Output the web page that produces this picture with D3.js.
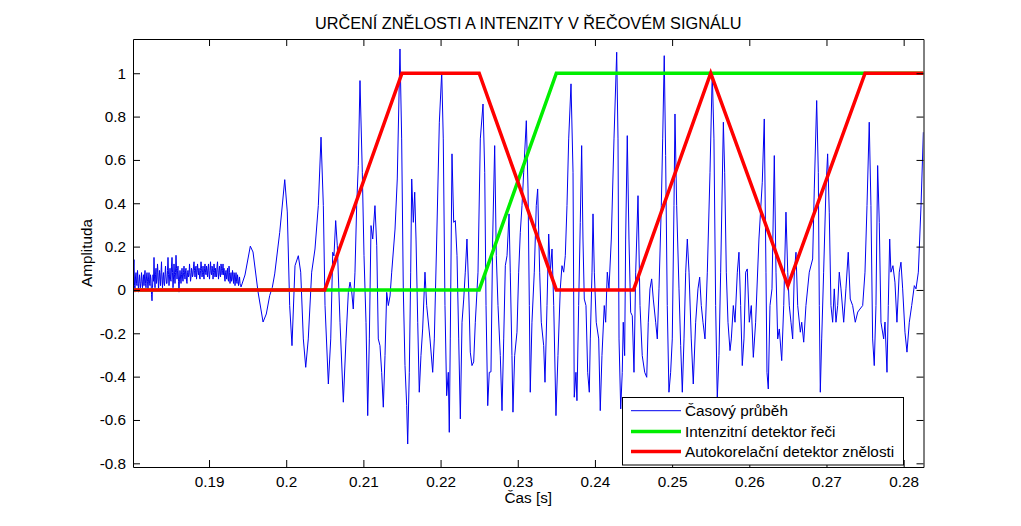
<!DOCTYPE html>
<html>
<head>
<meta charset="utf-8">
<script src="https://cdn.jsdelivr.net/npm/d3@7"></script>
<style>
  html, body { margin: 0; padding: 0; background: #fff; }
  svg { display: block; font-family: "Liberation Sans", Arial, sans-serif; }
</style>
</head>
<body>
<svg id="chart" width="1021" height="526"></svg>
<script>
// ---------------- DATA ----------------
const titleText = "URČENÍ ZNĚLOSTI A INTENZITY V ŘEČOVÉM SIGNÁLU";
const xLabelText = "Čas [s]";
const yLabelText = "Amplituda";
const legendLabels = ["Časový průběh", "Intenzitní detektor řeči", "Autokorelační detektor znělosti"];

const xTicks = [0.19, 0.20, 0.21, 0.22, 0.23, 0.24, 0.25, 0.26, 0.27, 0.28];
const xTickLabels = ["0.19", "0.2", "0.21", "0.22", "0.23", "0.24", "0.25", "0.26", "0.27", "0.28"];
const yTicks = [-0.8, -0.6, -0.4, -0.2, 0, 0.2, 0.4, 0.6, 0.8, 1];
const yTickLabels = ["-0.8", "-0.6", "-0.4", "-0.2", "0", "0.2", "0.4", "0.6", "0.8", "1"];
const xDomain = [0.18015, 0.28257];
const yDomain = [-0.817, 1.158];

// background noise before voicing (uniformly sampled)
const noiseStartMs = 180.15;
const noiseStepMs = 0.0648;
const noiseAmp = [
  0.04, 0.10, 0.14, 0.02, -0.01, 0.06, 0.08, 0.03, 0.02, 0.09, 0.05, -0.01, 0.03, 0.07, 0.04, 0.01,
  0.03, 0.08, 0.05, 0.01, 0.04, 0.07, 0.02, 0.06, 0.09, 0.03, 0.01, 0.06, 0.08, 0.04, 0.00, 0.05, 0.08, 0.03, 0.02, 0.07, 0.05, -0.02, -0.05, 0.01, 0.07, 0.04,
  0.15, 0.06, 0.01, 0.07, 0.10, 0.03, 0.05, 0.12, 0.08, 0.00, 0.04, 0.09, 0.06, 0.02, 0.08, 0.13, 0.05, 0.01, 0.06, 0.08, 0.03, 0.02, 0.07, 0.11, 0.06, 0.03,
  0.03, 0.09, 0.15, 0.07, 0.02, 0.06, 0.10, 0.05, 0.04, 0.11, 0.15, 0.08, 0.01, 0.05, 0.12, 0.07, 0.03, 0.08, 0.16, 0.10, 0.05, 0.09, 0.11, 0.04, -0.01, 0.05, 0.09, 0.06, 0.03, 0.07, 0.10, 0.06, 0.04, 0.08,
  0.11, 0.07, 0.05, 0.09, 0.10, 0.04, 0.03, 0.08, 0.09, 0.06, 0.07, 0.12, 0.08, 0.04, 0.06, 0.10, 0.09, 0.06, 0.07, 0.11,
  0.13, 0.09, 0.06, 0.10, 0.11, 0.05, 0.08, 0.12, 0.09, 0.07, 0.10, 0.06, 0.05, 0.09, 0.13, 0.10, 0.06, 0.08, 0.11, 0.07,
  0.05, 0.10, 0.12, 0.08, 0.07, 0.11, 0.09, 0.06, 0.10, 0.12, 0.07, 0.05, 0.09, 0.13, 0.08, 0.07, 0.11, 0.10, 0.05, 0.08,
  0.12, 0.09, 0.06, 0.10, 0.07, 0.06, 0.11, 0.13, 0.08, 0.05, 0.09, 0.11, 0.07, 0.06, 0.12, 0.10, 0.07, 0.09, 0.12, 0.07,
  0.10, 0.06, 0.04, 0.08, 0.09, 0.05, 0.07, 0.10, 0.05, 0.04, 0.11, 0.08, 0.03, 0.06, 0.08, 0.04, 0.05, 0.09, 0.06, 0.03,
  0.08, 0.07, 0.02, 0.05, 0.08, 0.04, 0.03, 0.07, 0.05, 0.02, 0.04, 0.06, 0.03, 0.02
];

// voiced speech waveform: vertex times (ms) and amplitudes
const speechMs = [
  194.15, 194.66, 195.35, 195.70, 196.35, 197.00, 197.42, 197.86, 198.20, 198.51, 199.16, 199.81, 200.14, 200.45, 200.75,
  201.14, 201.57, 201.88, 202.22, 202.53, 202.86, 203.30, 203.73, 204.16, 204.51, 204.81, 205.03, 205.46, 205.77, 206.03,
  206.19, 206.41, 206.62, 206.97, 207.40, 207.75, 208.05, 208.27, 208.49, 208.69, 208.91, 209.13, 209.34, 209.56, 209.86,
  210.08, 210.34, 210.56, 210.77, 210.99, 211.21, 211.50, 211.73, 211.93, 212.15, 212.37, 212.58, 212.80, 213.02, 213.23,
  213.45, 213.67, 214.10, 214.39, 214.74, 214.96, 215.17, 215.39, 215.61, 215.74, 215.95, 216.13, 216.26, 216.47, 216.65,
  216.82, 217.04, 217.24, 217.46, 217.68, 217.98, 218.20, 218.63, 218.98, 219.19, 219.50, 219.84, 220.15, 220.35, 220.57,
  220.79, 221.00, 221.13, 221.26, 221.48, 221.70, 221.91, 222.13, 222.35, 222.56, 222.78, 223.00, 223.20, 223.42, 223.64,
  223.85, 224.07, 224.29, 224.50, 224.85, 225.15, 225.50, 225.72, 225.89, 226.11, 226.31, 226.53, 226.75, 227.01, 227.22,
  227.44, 227.74, 227.96, 228.18, 228.39, 228.61, 228.87, 229.03, 229.25, 229.38, 229.60, 229.90, 230.12, 230.33, 230.55,
  230.77, 231.11, 231.33, 231.50, 231.62, 231.84, 232.14, 232.40, 232.58, 232.84, 233.05, 233.36, 233.53, 233.79, 234.01,
  234.22, 234.44, 234.66, 234.95, 235.21, 235.51, 235.73, 235.95, 236.16, 236.38, 236.60, 236.90, 237.16, 237.32, 237.54,
  237.67, 237.89, 238.10, 238.28, 238.45, 238.62, 238.84, 239.06, 239.27, 239.40, 239.62, 239.75, 239.92, 240.17, 240.49,
  240.69, 240.91, 241.21, 241.39, 241.60, 241.82, 242.12, 242.47, 242.82, 242.99, 243.12, 243.34, 243.54, 243.67, 243.85,
  243.98, 244.19, 244.41, 244.63, 244.84, 245.06, 245.28, 245.58, 245.84, 246.13, 246.45, 246.71, 246.91, 247.13, 247.35,
  247.56, 247.87, 248.08, 248.30, 248.60, 248.78, 248.98, 249.16, 249.37, 249.59, 249.81, 250.02, 250.24, 250.37, 250.59,
  250.89, 251.11, 251.32, 251.54, 251.76, 251.97, 252.19, 252.48, 252.74, 253.05, 253.35, 253.57, 253.78, 254.00, 254.26,
  254.56, 254.91, 255.20, 255.42, 255.64, 255.85, 256.07, 256.29, 256.64, 256.81, 257.02, 257.24, 257.50, 257.67, 257.93,
  258.15, 258.45, 258.66, 258.88, 259.09, 259.31, 259.53, 259.74, 260.00, 260.26, 260.52, 260.82, 261.25, 261.68, 261.94,
  262.16, 262.29, 262.46, 262.68, 262.94, 263.24, 263.46, 263.68, 263.89, 264.20, 264.46, 264.75, 264.98, 265.18, 265.40,
  265.62, 265.83, 266.05, 266.27, 266.61, 266.79, 267.05, 267.34, 267.77, 268.21, 268.42, 268.73, 268.94, 269.07, 269.20,
  269.38, 269.63, 269.93, 270.15, 270.36, 270.58, 270.80, 271.01, 271.23, 271.45, 271.66, 271.88, 272.23, 272.52, 272.82,
  273.08, 273.39, 273.73, 274.05, 274.34, 274.69, 274.99, 275.25, 275.54, 275.76, 275.98, 276.19, 276.41, 276.63, 276.84,
  277.06, 277.41, 277.58, 277.84, 278.01, 278.19, 278.35, 278.61, 278.87, 279.13, 279.43, 279.65, 279.87, 280.17, 280.43,
  280.73, 281.04, 281.38, 281.60, 281.90, 282.25, 282.55
];
const speechAmp = [
  0.014, 0.069, 0.202, 0.175, -0.009, -0.148, -0.111, -0.026, 0.012, 0.074, 0.266, 0.509, 0.360, -0.072, -0.257,
  0.112, 0.158, 0.082, -0.226, -0.357, -0.226, 0.082, 0.189, 0.389, 0.705, 0.389, -0.072, -0.434, -0.226, 0.174,
  0.157, 0.320, 0.204, -0.149, -0.518, -0.226, -0.011, 0.036, -0.009, -0.088, 0.082, 0.389, 0.574, 0.966, 0.543,
  0.158, -0.149, -0.580, -0.226, 0.297, 0.235, 0.389, 0.204, -0.226, -0.257, -0.380, -0.541, -0.303, -0.011, -0.072,
  -0.028, 0.082, 0.281, 0.512, 1.112, 0.697, 0.005, -0.349, -0.534, -0.711, -0.380, 0.082, 0.512, 0.312, 0.451,
  0.235, -0.149, -0.472, -0.303, -0.180, 0.082, -0.072, -0.226, -0.380, -0.226, 0.235, 0.774, 1.005, 0.697, -0.072,
  -0.488, -0.380, -0.657, -0.226, 0.628, 0.312, 0.320, 0.158, -0.226, -0.595, -0.149, -0.042, 0.082, 0.235, 0.005,
  -0.287, -0.349, -0.332, -0.149, 0.082, 0.697, 0.858, 0.543, -0.072, -0.534, -0.380, -0.378, 0.235, 0.666, 0.158,
  -0.072, -0.303, -0.557, -0.226, 0.112, 0.158, 0.351, 0.082, -0.303, -0.564, -0.303, -0.195, 0.082, 0.266, 0.389,
  0.543, 0.781, 0.466, -0.072, -0.472, -0.149, 0.082, 0.389, 0.466, 0.082, -0.149, -0.257, -0.426, -0.072, 0.258,
  0.082, 0.189, -0.072, -0.580, -0.303, 0.005, 0.112, 0.082, 0.158, 0.389, 0.697, 0.951, 0.543, -0.495, -0.380,
  -0.511, -0.072, 0.312, 0.666, 0.235, -0.042, -0.072, -0.380, -0.472, -0.226, 0.082, 0.351, 0.082, -0.149, -0.226,
  -0.557, -0.303, -0.072, -0.149, 0.082, 0.005, 0.235, 0.697, 1.097, 0.697, -0.226, -0.549, -0.380, -0.149, -0.303,
  0.235, 0.712, 0.235, -0.103, -0.119, -0.380, 0.082, 0.435, -0.072, -0.303, -0.380, -0.403, -0.149, 0.005, 0.051,
  -0.042, -0.149, -0.226, 0.005, 0.389, 0.697, 1.081, 0.620, -0.072, -0.472, -0.380, -0.226, 0.389, 0.812, 0.389,
  0.005, -0.257, -0.472, -0.226, 0.082, 0.235, 0.082, -0.226, -0.434, -0.149, 0.005, 0.059, -0.072, -0.149, -0.226,
  0.082, 0.543, 1.005, 0.697, -0.072, -0.503, -0.303, 0.082, 0.774, 0.543, 0.082, -0.149, -0.280, -0.226, -0.072,
  -0.149, 0.082, 0.174, -0.072, -0.349, -0.226, 0.082, 0.097, -0.149, -0.072, -0.311, -0.149, 0.235, 0.497, 0.789,
  0.082, -0.380, -0.457, -0.072, 0.005, 0.620, 0.082, -0.226, -0.180, -0.326, -0.072, 0.359, 0.082, -0.072, -0.149,
  -0.226, 0.082, 0.174, -0.072, -0.195, -0.149, -0.241, -0.072, 0.082, 0.143, 0.466, 0.874, 0.543, -0.072, -0.472,
  -0.226, 0.082, 0.466, 0.628, 0.359, -0.072, -0.149, 0.005, -0.149, -0.072, 0.082, 0.005, -0.149, 0.005, 0.174,
  -0.042, -0.072, -0.149, -0.102, -0.088, -0.072, 0.082, 0.389, 0.774, 0.389, -0.226, -0.349, -0.072, 0.574, 0.312,
  -0.149, -0.226, -0.148, -0.380, -0.072, 0.235, 0.082, 0.112, 0.036, -0.149, 0.082, 0.128, 0.005, -0.195, -0.287,
  -0.149, -0.072, 0.020, 0.005, 0.082, 0.389, 0.728
];

// detector outputs (breakpoints in seconds)
const detectorTime = [0.18015, 0.205, 0.215, 0.225, 0.235, 0.245, 0.255, 0.265, 0.275, 0.28257];
const intensityDetector = [0, 0, 0, 0, 1, 1, 1, 1, 1, 1];
const voicingDetector = [0, 0, 1, 1, 0, 0, 1, 0.02, 1, 1];

// ---------------- CHART ----------------
const W = 1021, H = 526;
const plot = { left: 133, right: 923.5, top: 39, bottom: 467 };
const fontSize = 15.3;
const blueColor = "#0000f0", greenColor = "#00ee00", redColor = "#ff0000";

const svg = d3.select("#chart");
svg.append("rect").attr("width", W).attr("height", H).attr("fill", "#fff");

const x = d3.scaleLinear().domain(xDomain).range([plot.left, plot.right]);
const y = d3.scaleLinear().domain(yDomain).range([plot.bottom, plot.top]);

// build signal points
const signal = [];
noiseAmp.forEach((a, i) => signal.push([(noiseStartMs + i * noiseStepMs) / 1000, a]));
speechMs.forEach((t, i) => signal.push([t / 1000, speechAmp[i]]));

svg.append("clipPath").attr("id", "clip")
  .append("rect").attr("x", plot.left).attr("y", plot.top)
  .attr("width", plot.right - plot.left).attr("height", plot.bottom - plot.top);

const g = svg.append("g").attr("clip-path", "url(#clip)");
const line = d3.line().x(d => x(d[0])).y(d => y(d[1]));

g.append("path").datum(signal).attr("d", line)
  .attr("fill", "none").attr("stroke", blueColor).attr("stroke-width", 1).attr("stroke-linejoin", "miter");

g.append("path").datum(detectorTime.map((t, i) => [t, intensityDetector[i]])).attr("d", line)
  .attr("fill", "none").attr("stroke", greenColor).attr("stroke-width", 3.5).attr("stroke-linejoin", "miter");

g.append("path").datum(detectorTime.map((t, i) => [t, voicingDetector[i]])).attr("d", line)
  .attr("fill", "none").attr("stroke", redColor).attr("stroke-width", 3.5).attr("stroke-linejoin", "miter");

// axes (MATLAB-style box with inward ticks)
const tickLen = 7;
const xLabelMap = new Map(xTicks.map((t, i) => [t, xTickLabels[i]]));
const yLabelMap = new Map(yTicks.map((t, i) => [t, yTickLabels[i]]));

const axB = svg.append("g").attr("transform", `translate(0,${plot.bottom})`)
  .call(d3.axisBottom(x).tickValues(xTicks).tickSizeInner(-tickLen).tickSizeOuter(0).tickPadding(9)
    .tickFormat(d => xLabelMap.get(d)));
const axT = svg.append("g").attr("transform", `translate(0,${plot.top})`)
  .call(d3.axisTop(x).tickValues(xTicks).tickSizeInner(-tickLen).tickSizeOuter(0).tickFormat(""));
const axL = svg.append("g").attr("transform", `translate(${plot.left},0)`)
  .call(d3.axisLeft(y).tickValues(yTicks).tickSizeInner(-tickLen).tickSizeOuter(0).tickPadding(7)
    .tickFormat(d => yLabelMap.get(d)));
const axR = svg.append("g").attr("transform", `translate(${plot.right},0)`)
  .call(d3.axisRight(y).tickValues(yTicks).tickSizeInner(-tickLen).tickSizeOuter(0).tickFormat(""));

[axB, axT, axL, axR].forEach(a => {
  a.selectAll("path.domain").attr("stroke", "#000").attr("stroke-width", 1);
  a.selectAll(".tick line").attr("stroke", "#000").attr("stroke-width", 1);
  a.selectAll("text").attr("fill", "#000").style("font-size", fontSize + "px")
    .style("font-family", "'Liberation Sans', Arial, sans-serif");
});

// title and labels
svg.append("text").attr("x", (plot.left + plot.right) / 2).attr("y", 29)
  .attr("text-anchor", "middle").style("font-size", "16.3px").attr("fill", "#000").text(titleText);
svg.append("text").attr("x", (plot.left + plot.right) / 2).attr("y", 503)
  .attr("text-anchor", "middle").style("font-size", fontSize + "px").attr("fill", "#000").text(xLabelText);
svg.append("text").attr("transform", `translate(92,${(plot.top + plot.bottom) / 2}) rotate(-90)`)
  .attr("text-anchor", "middle").style("font-size", fontSize + "px").attr("fill", "#000").text(yLabelText);

// legend
const lg = { x: 622.5, y: 397.5, w: 281, h: 67.5 };
const leg = svg.append("g");
leg.append("rect").attr("x", lg.x).attr("y", lg.y).attr("width", lg.w).attr("height", lg.h)
  .attr("fill", "#fff").attr("stroke", "#000").attr("stroke-width", 1);
const legendColors = [blueColor, greenColor, redColor];
const legendWidths = [1, 3.5, 3.5];
const rowY = [410.7, 431.5, 451.5];
legendLabels.forEach((lab, i) => {
  leg.append("line").attr("x1", 631).attr("x2", 681).attr("y1", rowY[i]).attr("y2", rowY[i])
    .attr("stroke", legendColors[i]).attr("stroke-width", legendWidths[i]);
  leg.append("text").attr("x", 685).attr("y", rowY[i]).attr("dy", "0.35em")
    .style("font-size", fontSize + "px").attr("fill", "#000").text(lab);
});
</script>
</body>
</html>
